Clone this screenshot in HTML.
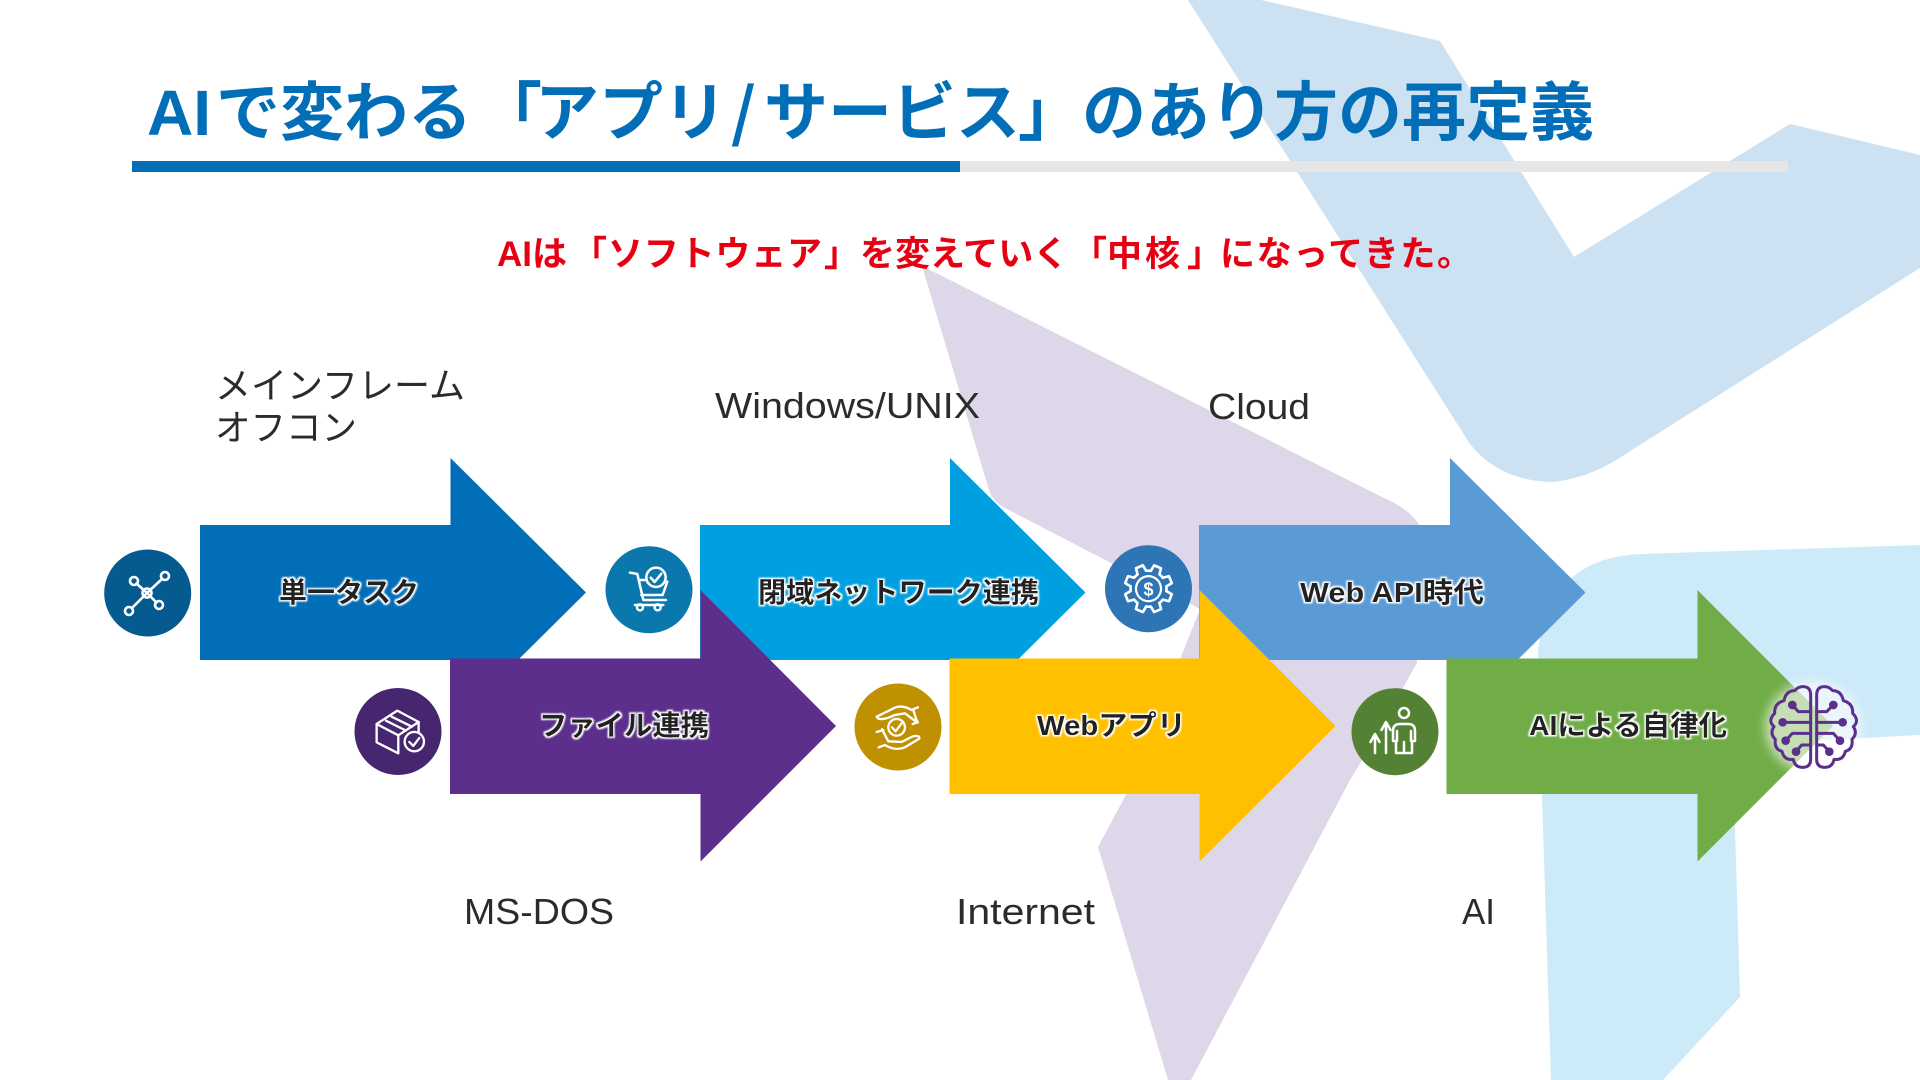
<!DOCTYPE html>
<html lang="ja">
<head>
<meta charset="utf-8">
<title>AIで変わる「アプリ/サービス」のあり方の再定義</title>
<style>
html,body{margin:0;padding:0;background:#fff;width:1920px;height:1080px;overflow:hidden}
svg{display:block}
text{font-family:"Liberation Sans","Noto Sans CJK JP",sans-serif}
.lab{font-size:36px;fill:#2b2b2b;font-weight:400}
.arr{font-size:28px;fill:#222;font-weight:700;filter:url(#glow)}
.ttl{font-size:64px;font-weight:700;fill:#036EB8}
.sub{font-size:35px;font-weight:700;fill:#E60012}
.ic{fill:none;stroke:#fff;stroke-linecap:round;stroke-linejoin:round}
</style>
</head>
<body>
<svg width="1920" height="1080" viewBox="0 0 1920 1080" xmlns="http://www.w3.org/2000/svg">
<defs>
<filter id="glow" x="-10%" y="-40%" width="120%" height="180%">
<feMorphology in="SourceAlpha" operator="dilate" radius="1.6" result="d"/>
<feGaussianBlur in="d" stdDeviation="0.9" result="b"/>
<feFlood flood-color="#fff"/>
<feComposite in2="b" operator="in" result="w"/>
<feMerge><feMergeNode in="w"/><feMergeNode in="SourceGraphic"/></feMerge>
</filter>
<filter id="soft" x="-30%" y="-30%" width="160%" height="160%"><feGaussianBlur stdDeviation="5"/></filter>
</defs>

<!-- background shapes -->
<path fill="#CCE1F1" d="M1188 0 L1261 0 L1440 41 L1574 257 L1790 124 L1920 155 L1920 268 L1627 453 Q1595 476 1555 482 Q1500 482 1470 444 Z"/>
<path fill="#DED6E9" d="M922 266 L1382 497 Q1412 510 1420 527 L1417 663 L1358 767 L1350 780 L1191 1080 L1168 1080 L1098 847 L1127 793 L1200 609 L1086 550 L1003 507 Q992 500 989 490 Z"/>
<path fill="#CCEAF8" d="M1920 545 L1640 554 Q1600 556 1575 575 Q1545 600 1538 650 L1542 795 L1551 1080 L1663 1080 L1740 997 L1735 827 L1735 745 L1920 735 Z"/>

<!-- title -->
<text class="ttl" x="147" y="135">AI</text>
<text class="ttl" x="216" y="135">で変わる</text>
<text class="ttl" x="478" y="135">「</text>
<text class="ttl" x="535" y="135">アプリ</text>
<text class="ttl" x="731" y="135" style="font-family:'Noto Sans CJK JP',sans-serif;font-weight:700">/</text>
<text class="ttl" x="764" y="135">サービス</text>
<text class="ttl" x="1018" y="135">」</text>
<text class="ttl" x="1082" y="135">のあり方の再定義</text>
<rect x="132" y="161" width="1656" height="11" fill="#E6E6E6"/>
<rect x="132" y="161" width="828" height="11" fill="#036EB8"/>

<!-- subtitle -->
<text class="sub" x="497" y="266">AIは</text>
<text class="sub" x="572" y="266">「</text>
<text class="sub" x="608" y="266" textLength="214">ソフトウェア</text>
<text class="sub" x="824" y="266">」</text>
<text class="sub" x="860" y="266">を変えていく</text>
<text class="sub" x="1072" y="266">「</text>
<text class="sub" x="1107" y="266" textLength="73">中核</text>
<text class="sub" x="1187" y="266">」</text>
<text class="sub" x="1220" y="266" textLength="252">になってきた。</text>

<!-- labels -->
<text class="lab" x="215" y="398" textLength="250" lengthAdjust="spacingAndGlyphs">メインフレーム</text>
<text class="lab" x="215" y="440" textLength="142" lengthAdjust="spacingAndGlyphs">オフコン</text>
<text class="lab" x="715" y="418" textLength="265" lengthAdjust="spacingAndGlyphs">Windows/UNIX</text>
<text class="lab" x="1208" y="419" textLength="102" lengthAdjust="spacingAndGlyphs">Cloud</text>
<text class="lab" x="464" y="924" textLength="150" lengthAdjust="spacingAndGlyphs">MS-DOS</text>
<text class="lab" x="956" y="924" textLength="139" lengthAdjust="spacingAndGlyphs">Internet</text>
<text class="lab" x="1462" y="924" textLength="33" lengthAdjust="spacingAndGlyphs">AI</text>

<!-- upper row arrows -->
<polygon fill="#036EB8" points="200,525 450.5,525 450.5,458 586,592.5 450.5,727 450.5,660 200,660"/>
<polygon fill="#00A0E0" points="700,525 950,525 950,458 1085.5,592.5 950,727 950,660 700,660"/>
<polygon fill="#5B9BD5" points="1199,525 1450,525 1450,458 1585.5,592.5 1450,727 1450,660 1199,660"/>
<!-- lower row arrows -->
<polygon fill="#5C2F8C" points="450,658.5 700.5,658.5 700.5,590 836,726 700.5,861.5 700.5,794 450,794"/>
<polygon fill="#FFC000" points="949.5,658.5 1199.5,658.5 1199.5,590 1335.5,726 1199.5,861.5 1199.5,794 949.5,794"/>
<polygon fill="#70AD47" points="1446.5,658.5 1697.5,658.5 1697.5,590 1833,726 1697.5,861.5 1697.5,794 1446.5,794"/>

<!-- arrow text -->
<text class="arr" x="279" y="602" textLength="140" lengthAdjust="spacingAndGlyphs">単一タスク</text>
<text class="arr" x="758" y="602" textLength="281" lengthAdjust="spacingAndGlyphs">閉域ネットワーク連携</text>
<text class="arr" x="1300" y="602" textLength="184" lengthAdjust="spacingAndGlyphs">Web API時代</text>
<text class="arr" x="539" y="735" textLength="170" lengthAdjust="spacingAndGlyphs">ファイル連携</text>
<text class="arr" x="1037" y="735" textLength="149" lengthAdjust="spacingAndGlyphs">Webアプリ</text>
<text class="arr" x="1529" y="735" textLength="198" lengthAdjust="spacingAndGlyphs">AIによる自律化</text>

<!-- circle 1: network -->
<circle cx="147.7" cy="593" r="43.5" fill="#055A90"/>
<g class="ic" stroke-width="2.6">
<path d="M147 593 L136.5 583.5 M147 593 L162 579 M147 593 L132 608 M147 593 L156.5 602.5"/>
<circle cx="147" cy="593" r="4.5"/><circle cx="134" cy="581" r="4"/><circle cx="165" cy="576" r="4"/><circle cx="129" cy="611" r="4"/><circle cx="159" cy="605" r="4"/>
</g>

<!-- circle 2: cart -->
<circle cx="649" cy="589.7" r="43.5" fill="#0A78AC"/>
<g class="ic" stroke-width="7.5" transform="translate(580 500) scale(.3333)">
<path d="M150 218 L172 222 L190 300 L258 300"/>
<path d="M176 240 L200 240 M262 245 L248 285 L184 285"/>
<path d="M165 315 L250 315"/>
<circle cx="228" cy="232" r="29"/>
<path d="M212 233 L224 246 L244 221"/>
<circle cx="180" cy="322" r="9"/><circle cx="233" cy="322" r="9"/>
</g>

<!-- circle 3: gear -->
<circle cx="1148.5" cy="588.7" r="43.5" fill="#2E75B6"/>
<g class="ic" stroke-width="2.6" transform="translate(1148.5 588.7) rotate(22.5)">
<path d="M17.39 -4.66 L23.7 -3.75 L23.7 3.75 L17.39 4.66 A18 18 0 0 1 15.59 9"/>
<path transform="rotate(45)" d="M17.39 -4.66 L23.7 -3.75 L23.7 3.75 L17.39 4.66 A18 18 0 0 1 15.59 9"/>
<path transform="rotate(90)" d="M17.39 -4.66 L23.7 -3.75 L23.7 3.75 L17.39 4.66 A18 18 0 0 1 15.59 9"/>
<path transform="rotate(135)" d="M17.39 -4.66 L23.7 -3.75 L23.7 3.75 L17.39 4.66 A18 18 0 0 1 15.59 9"/>
<path transform="rotate(180)" d="M17.39 -4.66 L23.7 -3.75 L23.7 3.75 L17.39 4.66 A18 18 0 0 1 15.59 9"/>
<path transform="rotate(225)" d="M17.39 -4.66 L23.7 -3.75 L23.7 3.75 L17.39 4.66 A18 18 0 0 1 15.59 9"/>
<path transform="rotate(270)" d="M17.39 -4.66 L23.7 -3.75 L23.7 3.75 L17.39 4.66 A18 18 0 0 1 15.59 9"/>
<path transform="rotate(315)" d="M17.39 -4.66 L23.7 -3.75 L23.7 3.75 L17.39 4.66 A18 18 0 0 1 15.59 9"/>
<circle r="12.5" stroke-width="2.2"/>
</g>
<text x="1148.5" y="595.5" font-size="18" font-weight="700" fill="#fff" text-anchor="middle">$</text>

<!-- circle 4: box -->
<circle cx="398" cy="731.5" r="43.5" fill="#46266F"/>
<g class="ic" stroke-width="7" transform="translate(80 500) scale(.3333)">
<path d="M890 672 L952 632 L1016 666 L955 706 Z"/>
<path d="M890 672 L890 727 L955 760 L955 706 M1016 666 L1016 696"/>
<path d="M918 662 L978 692 M935 650 L996 680"/>
<circle cx="1003" cy="725" r="29"/>
<path d="M988 726 L1000 738 L1018 714"/>
</g>

<!-- circle 5: hands -->
<circle cx="898" cy="727" r="43.5" fill="#BF9000"/>
<g class="ic" stroke-width="7" transform="translate(580 500) scale(.3333)">
<path d="M1014 622 L995 630 C975 618 955 615 935 628 L890 650 C895 664 925 655 945 645 L975 640 L1012 668"/>
<path d="M1000 630 L1012 668 M1014 666 L998 672"/>
<path d="M896 742 L915 735 C935 748 955 750 975 742 L1018 716 C1020 704 1000 706 985 716 L965 726 L925 724 L906 688 M890 696 L910 690"/>
<circle cx="950" cy="682" r="25"/>
<path d="M936 682 L947 694 L965 670"/>
</g>

<!-- circle 6: person -->
<circle cx="1395" cy="731.7" r="43.5" fill="#548235"/>
<g class="ic" stroke-width="2.5">
<circle cx="1404" cy="713" r="5"/>
<path d="M1396 753 L1396 741 L1393 741 L1393 731 Q1393 724 1400 724 L1408 724 Q1415 724 1415 731 L1415 741 L1412 741 L1412 753 Z M1397 731 L1397 741 M1411 731 L1411 741 M1404 742 L1404 753"/>
<path d="M1386 753 L1386 724 M1381.5 730 L1386 722 L1390.5 730"/>
<path d="M1375 753 L1375 736 M1370.5 742 L1375 734 L1379.5 742"/>
</g>

<!-- brain -->
<ellipse cx="1813" cy="727" rx="48" ry="46" fill="#fff" opacity=".6" filter="url(#soft)"/>
<g transform="translate(1760 670) scale(.3333)" fill="none" stroke="#5C2F8C" stroke-width="9" stroke-linecap="round" stroke-linejoin="round">
<path d="M152 75 L152 268 Q152 292 128 292 Q104 292 100 268 Q72 272 66 244 Q42 238 46 208 Q28 190 42 170 Q22 152 44 130 Q42 100 72 92 Q78 62 104 62 Q116 48 132 50 Q152 52 152 75 Z"/>
<path d="M97 105 L115 125 L152 125 M68 157 L152 157 M77 212 L97 190 L152 190 M108 245 L125 225 L152 225"/>
<path d="M170 75 L170 268 Q170 292 194 292 Q218 292 222 268 Q250 272 256 244 Q280 238 276 208 Q294 190 280 170 Q300 152 278 130 Q280 100 250 92 Q244 62 218 62 Q206 48 190 50 Q170 52 170 75 Z"/>
<path d="M220 105 L200 125 L170 125 M248 157 L170 157 M240 212 L220 190 L170 190 M208 245 L190 225 L170 225"/>
<g fill="#5C2F8C" stroke="none">
<circle cx="97" cy="105" r="13"/><circle cx="68" cy="157" r="13"/><circle cx="77" cy="212" r="13"/><circle cx="108" cy="245" r="13"/>
<circle cx="220" cy="105" r="13"/><circle cx="248" cy="157" r="13"/><circle cx="240" cy="212" r="13"/><circle cx="208" cy="245" r="13"/>
</g>
</g>
</svg>
</body>
</html>
